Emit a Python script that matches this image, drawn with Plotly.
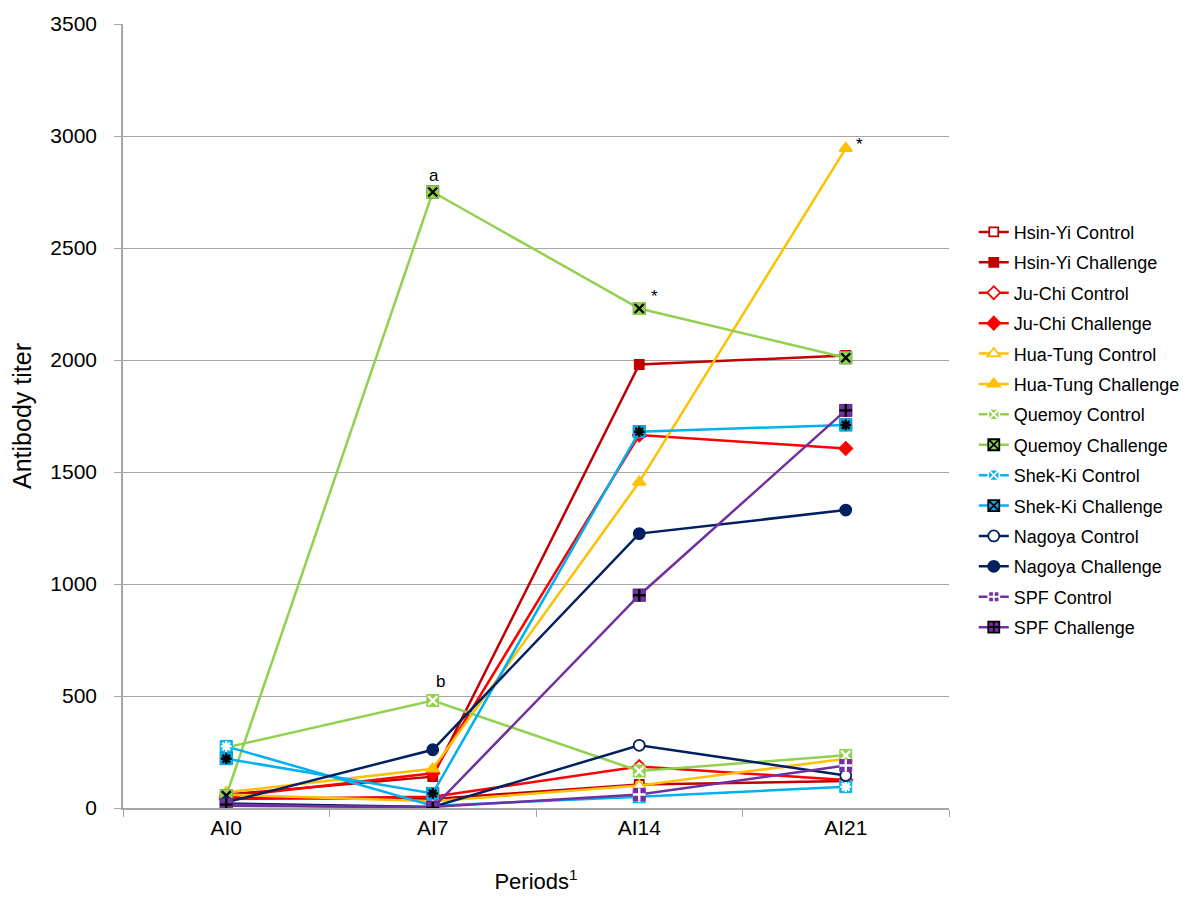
import plotly.graph_objects as go

periods = ["AI0", "AI7", "AI14", "AI21"]

hsinyi_control = [45, 40, 105, 120]
hsinyi_challenge = [60, 140, 1980, 2020]
juchi_control = [40, 50, 185, 125]
juchi_challenge = [50, 155, 1665, 1605]
huatung_control = [60, 30, 100, 220]
huatung_challenge = [70, 175, 1455, 2945]
quemoy_control = [270, 480, 165, 235]
quemoy_challenge = [55, 2750, 2230, 2010]
shekki_control = [275, 10, 50, 95]
shekki_challenge = [220, 65, 1680, 1710]
nagoya_control = [20, 5, 280, 145]
nagoya_challenge = [25, 260, 1225, 1330]
spf_control = [10, 5, 60, 190]
spf_challenge = [15, 0, 950, 1775]

names = ["Hsin-Yi Control", "Hsin-Yi Challenge", "Ju-Chi Control", "Ju-Chi Challenge",
         "Hua-Tung Control", "Hua-Tung Challenge", "Quemoy Control", "Quemoy Challenge",
         "Shek-Ki Control", "Shek-Ki Challenge", "Nagoya Control", "Nagoya Challenge",
         "SPF Control", "SPF Challenge"]
series = [hsinyi_control, hsinyi_challenge, juchi_control, juchi_challenge,
          huatung_control, huatung_challenge, quemoy_control, quemoy_challenge,
          shekki_control, shekki_challenge, nagoya_control, nagoya_challenge,
          spf_control, spf_challenge]

C_HY, C_JC, C_HT, C_QM, C_SK, C_NG, C_SPF = "#C00000", "#FF0000", "#FFC000", "#92D050", "#00B0F0", "#002060", "#7030A0"

# (line colour, legend symbol, fill, marker line colour, size, overlay glyph, glyph colour)
styles = [
    (C_HY, "square", "white", C_HY, 9, None, None),
    (C_HY, "square", C_HY, C_HY, 9, None, None),
    (C_JC, "diamond", "white", C_JC, 10, None, None),
    (C_JC, "diamond", C_JC, C_JC, 10, None, None),
    (C_HT, "triangle-up", "white", C_HT, 11, None, None),
    (C_HT, "triangle-up", C_HT, C_HT, 11, None, None),
    (C_QM, "square-x", C_QM, "white", 11, "x-thin-open", "white"),
    (C_QM, "square-x", C_QM, "black", 11, "x-thin-open", "black"),
    (C_SK, "square-x", C_SK, "white", 11, "asterisk-open", "white"),
    (C_SK, "square-x", C_SK, "black", 11, "asterisk-open", "black"),
    (C_NG, "circle", "white", C_NG, 11, None, None),
    (C_NG, "circle", C_NG, C_NG, 11, None, None),
    (C_SPF, "square-cross", C_SPF, "white", 11, "cross-thin-open", "white"),
    (C_SPF, "square-cross", C_SPF, "black", 11, "cross-thin-open", "black"),
]

fig = go.Figure()
for i, (nm, vals, st) in enumerate(zip(names, series, styles)):
    lc, sym, fill, mlc, sz, osym, oc = st
    fig.add_trace(go.Scatter(
        x=periods, y=vals, name=nm, mode="lines+markers",
        legendgroup=f"g{i}",
        line=dict(color=lc, width=2.5),
        marker=dict(symbol=sym, size=sz, color=fill, line=dict(color=mlc, width=1.8)),
    ))
    if osym:
        # solid square base then the inner glyph, drawn over the plotted points
        fig.add_trace(go.Scatter(
            x=periods, y=vals, mode="markers", showlegend=False,
            legendgroup=f"g{i}", hoverinfo="skip",
            marker=dict(symbol="square", size=sz + 1, color=fill, line=dict(color=fill, width=1)),
        ))
        fig.add_trace(go.Scatter(
            x=periods, y=vals, mode="markers", showlegend=False,
            legendgroup=f"g{i}", hoverinfo="skip",
            marker=dict(symbol=osym, size=9, color=oc, line=dict(color=oc, width=2.4)),
        ))

ann_font = dict(family="Liberation Sans, Arial, sans-serif", size=17, color="black")
annotations = [
    dict(x="AI7", y=2750, text="a", showarrow=False, yshift=17, xshift=1, font=ann_font),
    dict(x="AI7", y=480, text="b", showarrow=False, yshift=19, xshift=8, font=ann_font),
    dict(x="AI14", y=2230, text="*", showarrow=False, yshift=12, xshift=15, font=ann_font),
    dict(x="AI21", y=2945, text="*", showarrow=False, yshift=4, xshift=14, font=ann_font),
]

fig.update_layout(
    width=1200, height=904,
    margin=dict(l=115, r=259, t=16, b=104, autoexpand=False),
    paper_bgcolor="white", plot_bgcolor="white",
    font=dict(family="Liberation Sans, Arial, sans-serif", color="black"),
    annotations=annotations,
    legend=dict(x=1.03, y=0.758, xanchor="left", yanchor="top",
                font=dict(size=18), tracegroupgap=4, bgcolor="rgba(0,0,0,0)"),
    xaxis=dict(
        type="category", categoryorder="array", categoryarray=periods,
        range=[-0.5, 3.5], showgrid=False, showline=True, linecolor="#A6A6A6", linewidth=1.5,
        ticks="outside", tickson="boundaries", ticklen=7, tickcolor="#A6A6A6",
        tickfont=dict(size=21), automargin=False,
        title=dict(text="Periods<sup>1</sup>", font=dict(size=22), standoff=36),
    ),
    yaxis=dict(
        range=[0, 3500], dtick=500, showgrid=True, gridcolor="#A6A6A6", gridwidth=1.2,
        showline=True, linecolor="#A6A6A6", linewidth=1.5, zeroline=False,
        ticks="outside", ticklen=7, tickcolor="#A6A6A6", ticklabelstandoff=13,
        tickfont=dict(size=21), automargin=False,
        title=dict(text="Antibody titer", font=dict(size=25), standoff=13),
    ),
)

fig.write_html("out.html")
